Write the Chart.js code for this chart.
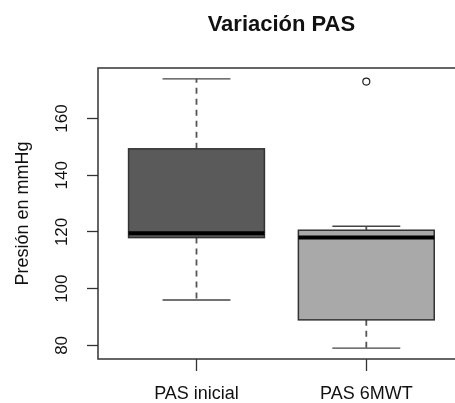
<!DOCTYPE html>
<html lang="es">
  <head>
    <meta charset="UTF-8" />
    <meta name="viewport" content="width=device-width, initial-scale=1.0" />
    <title>Variación PAS</title>
    <script src="https://cdn.jsdelivr.net/npm/chart.js"></script>
    <style>
      body {
        margin: 0;
        overflow: hidden;
        background: #fff;
      }
      .grafico {
        width: 470px;
        height: 403px;
      }
    </style>
  </head>
  <body>
    <div class="grafico">
      <canvas id="myCanvas"></canvas>
    </div>
  </body>
</html>
<script>
  // datos del boxplot
  const categorias = ["PAS inicial", "PAS 6MWT"];
  const bigoteInferior = [96, 79];
  const q1 = [118, 89];
  const mediana = [119.5, 118];
  const q3 = [149.3, 120.6];
  const bigoteSuperior = [174, 122];
  const atipicos = [[], [173]];
  const ticksY = [80, 100, 120, 140, 160];

  const coresCaixa = ["#5a5a5a", "#a9a9a9"];
  const larguraCaixa = 0.8;

  Chart.defaults.font.family = "'Liberation Sans', Arial, sans-serif";
  Chart.defaults.color = "#111";

  // pontos atípicos
  let pontos = [];
  for (let i = 0; i < atipicos.length; i++) {
    for (let j = 0; j < atipicos[i].length; j++) {
      pontos.push({ x: i + 1, y: atipicos[i][j] });
    }
  }

  const pluginCaixas = {
    id: "caixas",
    beforeDatasetsDraw(chart) {
      const ctx = chart.ctx;
      const x = chart.scales.x;
      const y = chart.scales.y;
      const area = chart.chartArea;

      ctx.save();
      for (let i = 0; i < categorias.length; i++) {
        const cx = x.getPixelForValue(i + 1);
        const meia = x.getPixelForValue(i + 1 + larguraCaixa / 2) - cx;
        const meiaHaste = meia / 2;

        // bigotes
        ctx.strokeStyle = "#555";
        ctx.lineWidth = 1.8;
        ctx.setLineDash([6, 5]);
        ctx.beginPath();
        ctx.moveTo(cx, y.getPixelForValue(q3[i]));
        ctx.lineTo(cx, y.getPixelForValue(bigoteSuperior[i]));
        ctx.moveTo(cx, y.getPixelForValue(q1[i]));
        ctx.lineTo(cx, y.getPixelForValue(bigoteInferior[i]));
        ctx.stroke();

        ctx.setLineDash([]);
        ctx.strokeStyle = "#444";
        ctx.lineWidth = 1.3;
        ctx.beginPath();
        ctx.moveTo(cx - meiaHaste, y.getPixelForValue(bigoteSuperior[i]));
        ctx.lineTo(cx + meiaHaste, y.getPixelForValue(bigoteSuperior[i]));
        ctx.moveTo(cx - meiaHaste, y.getPixelForValue(bigoteInferior[i]));
        ctx.lineTo(cx + meiaHaste, y.getPixelForValue(bigoteInferior[i]));
        ctx.stroke();

        // caixa
        const topo = y.getPixelForValue(q3[i]);
        const base = y.getPixelForValue(q1[i]);
        ctx.fillStyle = coresCaixa[i];
        ctx.fillRect(cx - meia, topo, meia * 2, base - topo);
        ctx.strokeStyle = "#333";
        ctx.lineWidth = 1.5;
        ctx.strokeRect(cx - meia, topo, meia * 2, base - topo);

        // mediana
        ctx.strokeStyle = "#000";
        ctx.lineWidth = 4;
        ctx.beginPath();
        ctx.moveTo(cx - meia, y.getPixelForValue(mediana[i]));
        ctx.lineTo(cx + meia, y.getPixelForValue(mediana[i]));
        ctx.stroke();
      }

      // moldura
      ctx.strokeStyle = "#333";
      ctx.lineWidth = 1.5;
      ctx.strokeRect(area.left, area.top, area.right - area.left, area.bottom - area.top);
      ctx.restore();
    },
  };

  const config = {
    type: "scatter",
    data: {
      datasets: [
        {
          label: "Atípicos",
          data: pontos,
          pointRadius: 3.5,
          pointBorderWidth: 1.2,
          pointBorderColor: "#222",
          pointBackgroundColor: "#fff",
        },
      ],
    },
    options: {
      responsive: true,
      maintainAspectRatio: false,
      animation: false,
      layout: { padding: { left: 0, right: 3, top: 0, bottom: 0 } },
      scales: {
        x: {
          type: "linear",
          min: 0.42,
          max: 2.58,
          afterBuildTicks: (s) => {
            s.ticks = categorias.map((c, i) => ({ value: i + 1 }));
          },
          afterFit: (s) => {
            s.height = 44;
          },
          border: { display: false },
          grid: { drawOnChartArea: false, tickLength: 12, tickColor: "#333", tickWidth: 1.3 },
          ticks: {
            callback: (v, i) => categorias[i],
            autoSkip: false,
            maxRotation: 0,
            padding: 12,
            font: { size: 18 },
          },
        },
        y: {
          type: "linear",
          min: 75.2,
          max: 177.8,
          afterBuildTicks: (s) => {
            s.ticks = ticksY.map((v) => ({ value: v }));
          },
          afterFit: (s) => {
            s.width = 98;
          },
          border: { display: false },
          grid: { drawOnChartArea: false, tickLength: 11, tickColor: "#333", tickWidth: 1.3 },
          ticks: {
            minRotation: 90,
            maxRotation: 90,
            crossAlign: "center",
            padding: 11,
            font: { size: 17 },
          },
          title: {
            display: true,
            text: "Presión en mmHg",
            font: { size: 18 },
            padding: { top: 12, bottom: 0 },
          },
        },
      },
      plugins: {
        legend: { display: false },
        tooltip: { enabled: false },
        title: {
          display: true,
          text: "Variación PAS",
          fullSize: false,
          font: { size: 22, weight: "bold" },
          padding: { top: 12, bottom: 29.6 },
        },
      },
    },
    plugins: [pluginCaixas],
  };

  new Chart(document.getElementById("myCanvas"), config);
</script>
